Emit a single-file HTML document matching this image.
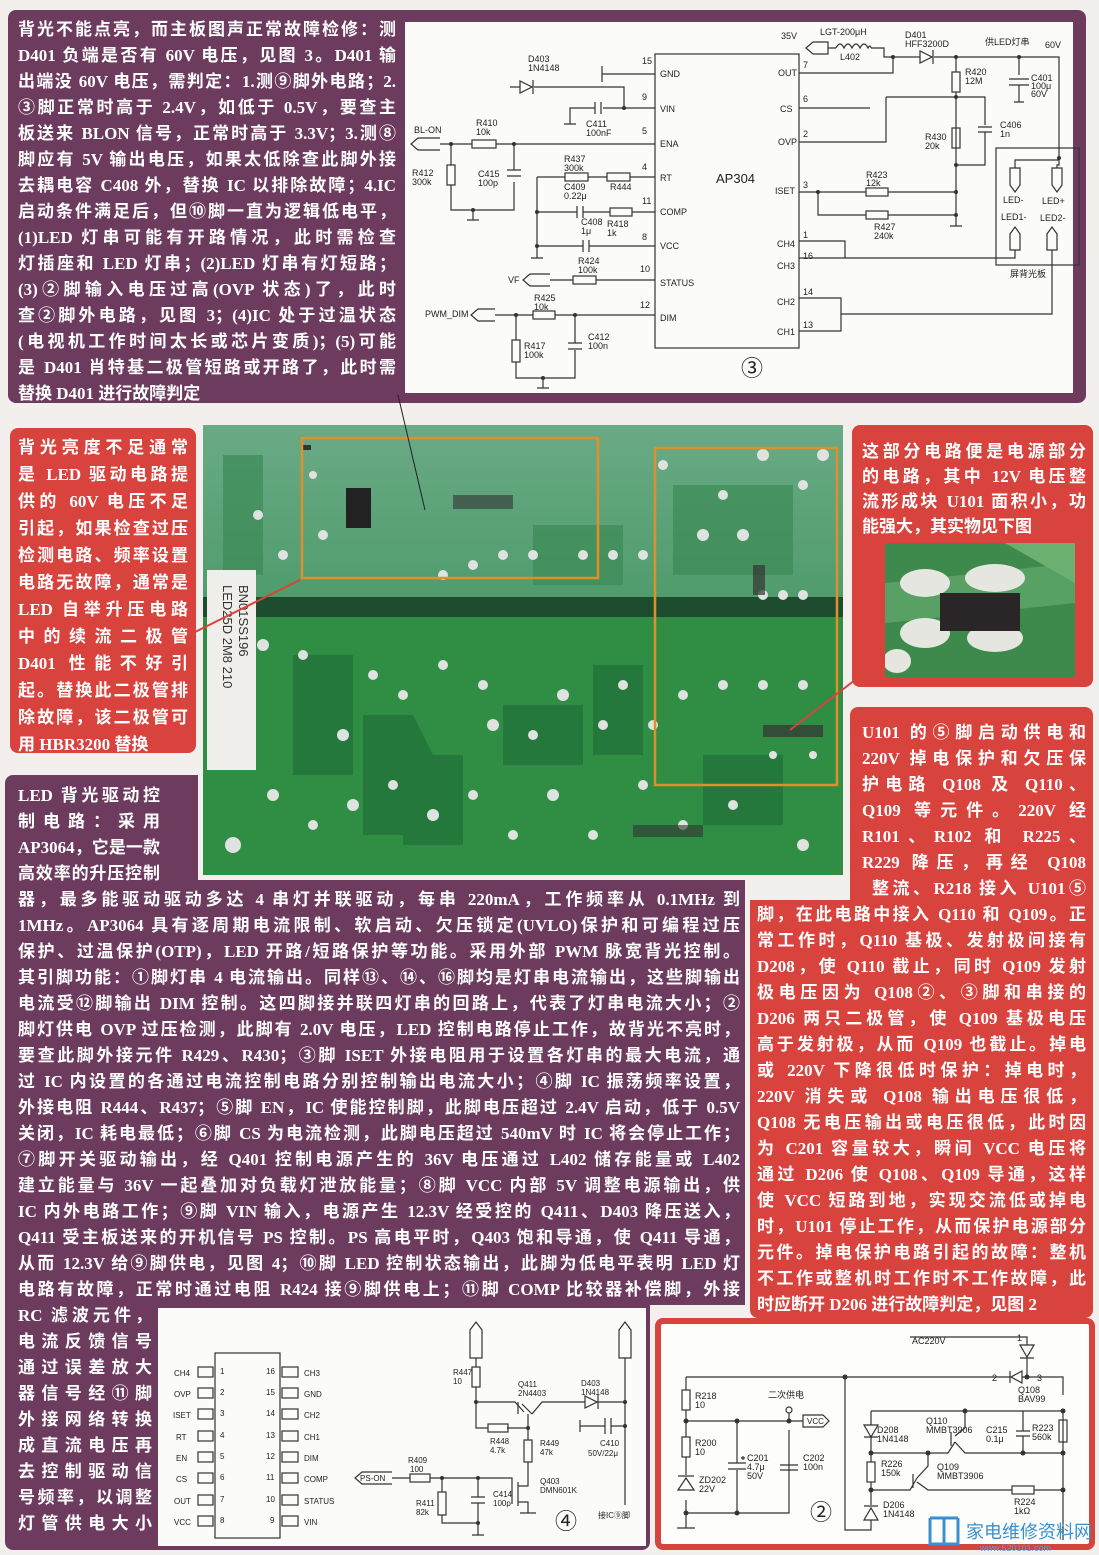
<!DOCTYPE html>
<html><head><meta charset="utf-8">
<style>
html,body{margin:0;padding:0}
body{width:1099px;height:1555px;position:relative;background:#f3efed;overflow:hidden;font-family:"Liberation Serif","Noto Sans CJK SC",sans-serif}
.box{position:absolute;border-radius:8px}
.pu{background:#6c3b5e}
.rd{background:#d8433e}
.l{position:absolute;height:26px;line-height:26px;color:#fff;font-weight:bold;font-size:17px;text-align:justify;text-align-last:justify;overflow:visible;font-family:"Liberation Serif","Noto Sans CJK SC",sans-serif}
.nl{text-align-last:left}
svg text{font-family:"Liberation Sans","Noto Sans CJK SC",sans-serif}
</style></head><body>

<!-- TOP PURPLE -->
<div class="box pu" style="left:8px;top:10px;width:1078px;height:393px"></div>
<div style="position:absolute;left:405px;top:22px;width:668px;height:371px;background:#fbfbf8"></div>

<div class="l" style="left:18px;top:17px;width:378px">背光不能点亮，而主板图声正常故障检修：测</div>
<div class="l" style="left:18px;top:43px;width:378px">D401 负端是否有 60V 电压，见图 3。D401 输</div>
<div class="l" style="left:18px;top:69px;width:378px">出端没 60V 电压，需判定：1.测⑨脚外电路；2.</div>
<div class="l" style="left:18px;top:95px;width:378px">③脚正常时高于 2.4V，如低于 0.5V，要查主</div>
<div class="l" style="left:18px;top:121px;width:378px">板送来 BLON 信号，正常时高于 3.3V；3.测⑧</div>
<div class="l" style="left:18px;top:147px;width:378px">脚应有 5V 输出电压，如果太低除查此脚外接</div>
<div class="l" style="left:18px;top:173px;width:378px">去耦电容 C408 外，替换 IC 以排除故障；4.IC</div>
<div class="l" style="left:18px;top:199px;width:378px">启动条件满足后，但⑩脚一直为逻辑低电平，</div>
<div class="l" style="left:18px;top:225px;width:378px">(1)LED 灯串可能有开路情况，此时需检查</div>
<div class="l" style="left:18px;top:251px;width:378px">灯插座和 LED 灯串；(2)LED 灯串有灯短路；</div>
<div class="l" style="left:18px;top:277px;width:378px">(3)②脚输入电压过高(OVP 状态)了，此时</div>
<div class="l" style="left:18px;top:303px;width:378px">查②脚外电路，见图 3；(4)IC 处于过温状态</div>
<div class="l" style="left:18px;top:329px;width:378px">(电视机工作时间太长或芯片变质)；(5)可能</div>
<div class="l" style="left:18px;top:355px;width:378px">是 D401 肖特基二极管短路或开路了，此时需</div>
<div class="l nl" style="left:18px;top:381px;width:378px">替换 D401 进行故障判定</div>

<!-- Schematic 3 -->
<svg style="position:absolute;left:0;top:0" width="1099" height="410" viewBox="0 0 1099 410" fill="none" stroke="#333" stroke-width="1.2">
<rect x="655" y="54" width="144" height="294"/>
<g font-size="9" fill="#222" stroke="none">
<text x="716" y="183" font-size="13">AP304</text>
<text x="660" y="77">GND</text><text x="660" y="112">VIN</text><text x="660" y="147">ENA</text><text x="660" y="181">RT</text><text x="660" y="215">COMP</text><text x="660" y="249">VCC</text><text x="660" y="286">STATUS</text><text x="660" y="321">DIM</text>
<text x="642" y="64">15</text><text x="642" y="100">9</text><text x="642" y="134">5</text><text x="642" y="170">4</text><text x="642" y="204">11</text><text x="642" y="240">8</text><text x="640" y="272">10</text><text x="640" y="308">12</text>
<text x="778" y="76">OUT</text><text x="780" y="112">CS</text><text x="778" y="145">OVP</text><text x="775" y="194">ISET</text><text x="777" y="247">CH4</text><text x="777" y="269">CH3</text><text x="777" y="305">CH2</text><text x="777" y="335">CH1</text>
<text x="803" y="68">7</text><text x="803" y="102">6</text><text x="803" y="137">2</text><text x="803" y="188">3</text><text x="803" y="238">1</text><text x="803" y="259">16</text><text x="803" y="295">14</text><text x="803" y="328">13</text>
<text x="781" y="39">35V</text><text x="820" y="35">LGT-200μH</text><text x="840" y="60">L402</text><text x="905" y="38">D401</text><text x="905" y="47">HFF3200D</text>
<text x="985" y="45">供LED灯串</text><text x="1045" y="48">60V</text><text x="965" y="75">R420</text><text x="965" y="84">12M</text><text x="1031" y="81">C401</text><text x="1031" y="89">100μ</text><text x="1031" y="97">60V</text>
<text x="1000" y="128">C406</text><text x="1000" y="137">1n</text><text x="925" y="140">R430</text><text x="925" y="149">20k</text>
<text x="866" y="178">R423</text><text x="866" y="186">12k</text><text x="874" y="230">R427</text><text x="874" y="239">240k</text>
<text x="1003" y="203">LED-</text><text x="1042" y="204">LED+</text><text x="1001" y="220">LED1-</text><text x="1040" y="221">LED2-</text><text x="1010" y="277">屏背光板</text>
<text x="528" y="62">D403</text><text x="528" y="71">1N4148</text><text x="586" y="127">C411</text><text x="586" y="136">100nF</text>
<text x="414" y="133">BL-ON</text><text x="476" y="126">R410</text><text x="476" y="135">10k</text><text x="412" y="176">R412</text><text x="412" y="185">300k</text><text x="478" y="177">C415</text><text x="478" y="186">100p</text>
<text x="564" y="162">R437</text><text x="564" y="171">300k</text><text x="564" y="190">C409</text><text x="564" y="199">0.22μ</text><text x="610" y="190">R444</text>
<text x="581" y="225">C408</text><text x="581" y="234">1μ</text><text x="607" y="227">R418</text><text x="607" y="236">1k</text>
<text x="578" y="264">R424</text><text x="578" y="273">100k</text><text x="508" y="283">VF</text>
<text x="425" y="317">PWM_DIM</text><text x="534" y="301">R425</text><text x="534" y="310">10k</text><text x="524" y="349">R417</text><text x="524" y="358">100k</text><text x="588" y="340">C412</text><text x="588" y="349">100n</text>
<text x="741" y="376" font-size="22">③</text>
</g>
<path d="M828 42 L813 42 L806 48 L813 54 L828 54 Z"/>
<path d="M828 48 H836 M871 48 H884 V57 H920 M934 57 H1059 V158"/>
<path d="M836 48 q4 -8 8 0 q4 -8 8 0 q4 -8 8 0 q4 -8 8 0 q2 -4 3 0"/>
<path d="M920 51 L920 63 L932 57 Z M933 50 V64"/>
<path d="M799 73 H893 V57"/>
<path d="M1019 57 V75 M1009 79 H1029 M1009 85 H1029 M1019 85 V102 M1014 102 H1024"/>
<rect x="952" y="72" width="8" height="20"/><path d="M956 57 V72 M956 92 V192"/>
<path d="M886 97 H985 V125 M978 127 H992 M978 132 H992 M985 132 V165 H956"/>
<path d="M799 142 H886 V97"/><path d="M799 108 H870"/>
<rect x="952" y="128" width="8" height="20"/>
<path d="M799 192 H866 M888 192 H956 V226 M950 226 H962 M818 192 V215 H866 M888 215 H956"/>
<rect x="866" y="188" width="22" height="8"/><rect x="866" y="211" width="22" height="8"/>
<path d="M799 241 H845 V258 H799 M845 258 H1015 V250"/>
<path d="M799 298 H841 V331 H799 M841 314 H1052 V250"/>
<rect x="996" y="148" width="83" height="117"/>
<path d="M1059 158 V165 H1057 M1059 165 H1057 V168 M1015 168 V160 H1059"/>
<path d="M1010 168 H1020 V185 L1015 192 L1010 185 Z M1052 168 H1062 V185 L1057 192 L1052 185 Z"/>
<path d="M1010 250 H1020 V234 L1015 227 L1010 234 Z M1047 250 H1057 V234 L1052 227 L1047 234 Z"/>
<path d="M655 74 H602 M602 66 V82"/>
<path d="M510 87 H520 M534 87 H624 V108 M520 81 L520 93 L532 87 Z M533 80 V94"/>
<path d="M655 108 H603 M595 102 V114 M601 102 V114 M595 108 H570 V124 M564 124 H576"/>
<path d="M440 138 H418 L411 144 L418 150 L440 150 M440 144 H472 M496 144 H655"/>
<rect x="472" y="140" width="24" height="8"/>
<path d="M451 144 V165 M451 185 V210 H514 V182 M514 144 V170 M507 170 H521 M507 176 H521 M473 210 V220 M467 220 H479"/>
<rect x="447" y="165" width="8" height="20"/>
<path d="M537 177 H565 M588 177 H607 M630 177 H655"/><rect x="565" y="173" width="23" height="8"/><rect x="607" y="173" width="23" height="8"/>
<path d="M537 177 V258 M531 258 H543 M537 212 H577 M583 212 H610 M632 212 H655 M577 206 V218 M583 206 V218"/><rect x="610" y="208" width="22" height="8"/>
<path d="M537 246 H583 M589 246 H655 M583 240 V252 M589 240 V252"/>
<path d="M550 274 H530 L523 280 L530 286 L550 286 M550 280 H573 M596 280 H655"/><rect x="573" y="276" width="23" height="8"/>
<path d="M495 309 H478 L471 315 L478 321 L495 321 M495 315 H533 M555 315 H655"/><rect x="533" y="311" width="22" height="8"/>
<path d="M516 315 V340 M516 362 V378 H575 V350 M575 315 V343 M568 343 H582 M568 349 H582 M543 378 V388 M537 388 H549"/><rect x="512" y="340" width="8" height="22"/>
<g fill="#333" stroke="none"><circle cx="893" cy="57" r="2"/><circle cx="956" cy="57" r="2"/><circle cx="1019" cy="57" r="2"/><circle cx="956" cy="97" r="2"/><circle cx="956" cy="165" r="2"/><circle cx="956" cy="192" r="2"/><circle cx="818" cy="192" r="2"/><circle cx="956" cy="215" r="2"/><circle cx="1059" cy="158" r="2"/><circle cx="624" cy="108" r="2"/><circle cx="451" cy="144" r="2"/><circle cx="514" cy="144" r="2"/><circle cx="473" cy="210" r="2"/><circle cx="537" cy="212" r="2"/><circle cx="537" cy="246" r="2"/><circle cx="516" cy="315" r="2"/><circle cx="575" cy="315" r="2"/><circle cx="543" cy="378" r="2"/></g>
</svg>

<!-- LEFT RED -->
<div class="box rd" style="left:10px;top:428px;width:186px;height:325px"></div>
<div class="l" style="left:18px;top:435px;width:170px">背光亮度不足通常</div>
<div class="l" style="left:18px;top:462px;width:170px">是 LED 驱动电路提</div>
<div class="l" style="left:18px;top:489px;width:170px">供的 60V 电压不足</div>
<div class="l" style="left:18px;top:516px;width:170px">引起，如果检查过压</div>
<div class="l" style="left:18px;top:543px;width:170px">检测电路、频率设置</div>
<div class="l" style="left:18px;top:570px;width:170px">电路无故障，通常是</div>
<div class="l" style="left:18px;top:597px;width:170px">LED 自举升压电路</div>
<div class="l" style="left:18px;top:624px;width:170px">中的续流二极管</div>
<div class="l" style="left:18px;top:651px;width:170px">D401 性能不好引</div>
<div class="l" style="left:18px;top:678px;width:170px">起。替换此二极管排</div>
<div class="l" style="left:18px;top:705px;width:170px">除故障，该二极管可</div>
<div class="l nl" style="left:18px;top:732px;width:170px">用 HBR3200 替换</div>

<!-- PCB -->
<svg style="position:absolute;left:203px;top:425px" width="640" height="450" viewBox="0 0 640 450">
<defs><linearGradient id="gt" x1="0" y1="0" x2="0" y2="1"><stop offset="0" stop-color="#6aaa86"/><stop offset="1" stop-color="#4f9c6c"/></linearGradient></defs>
<rect width="640" height="450" fill="#2f8d44"/>
<rect width="640" height="175" fill="url(#gt)"/>
<rect y="172" width="640" height="20" fill="#1d4d2e"/>
<g fill="#23733a" opacity="0.8">
<path d="M90 230 h60 v120 h-60z"/><path d="M160 290 h50 l30 60 v60 h-80z"/><path d="M300 280 h80 v60 h-80z"/><path d="M390 240 h50 v90 h-50z"/><path d="M500 330 h80 v70 h-80z"/><path d="M200 330 h60 v90 h-60z"/>
</g>
<g fill="#3c8a55" opacity="0.7"><rect x="20" y="30" width="40" height="120"/><rect x="330" y="100" width="90" height="60"/><rect x="470" y="60" width="120" height="90"/></g>
<rect x="143" y="63" width="25" height="40" fill="#222"/>
<g fill="#dfe3e0">
<circle cx="55" cy="90" r="5"/><circle cx="80" cy="130" r="5"/><circle cx="110" cy="50" r="4"/><circle cx="120" cy="110" r="5"/><circle cx="240" cy="150" r="5"/><circle cx="270" cy="140" r="5"/><circle cx="300" cy="130" r="5"/><circle cx="330" cy="130" r="5"/><circle cx="380" cy="130" r="5"/><circle cx="410" cy="130" r="5"/><circle cx="440" cy="130" r="5"/><circle cx="560" cy="170" r="5"/><circle cx="580" cy="170" r="5"/><circle cx="600" cy="170" r="5"/><circle cx="500" cy="110" r="6"/><circle cx="540" cy="110" r="6"/><circle cx="560" cy="30" r="6"/><circle cx="600" cy="60" r="5"/><circle cx="460" cy="40" r="5"/><circle cx="520" cy="70" r="5"/>
<circle cx="60" cy="220" r="6"/><circle cx="100" cy="230" r="5"/><circle cx="140" cy="310" r="6"/><circle cx="170" cy="250" r="5"/><circle cx="200" cy="270" r="5"/><circle cx="240" cy="240" r="5"/><circle cx="280" cy="260" r="5"/><circle cx="290" cy="300" r="6"/><circle cx="330" cy="310" r="5"/><circle cx="360" cy="270" r="6"/><circle cx="400" cy="300" r="5"/><circle cx="420" cy="260" r="5"/><circle cx="450" cy="300" r="5"/><circle cx="480" cy="270" r="5"/><circle cx="520" cy="260" r="5"/><circle cx="560" cy="260" r="5"/><circle cx="600" cy="260" r="5"/><circle cx="40" cy="330" r="5"/><circle cx="70" cy="370" r="6"/><circle cx="110" cy="400" r="5"/><circle cx="150" cy="380" r="6"/><circle cx="190" cy="360" r="5"/><circle cx="230" cy="390" r="6"/><circle cx="270" cy="370" r="5"/><circle cx="310" cy="410" r="5"/><circle cx="350" cy="370" r="6"/><circle cx="390" cy="410" r="5"/><circle cx="440" cy="360" r="5"/><circle cx="480" cy="400" r="5"/><circle cx="530" cy="380" r="5"/><circle cx="600" cy="420" r="6"/><circle cx="30" cy="420" r="8"/><circle cx="620" cy="30" r="6"/><circle cx="570" cy="330" r="4"/><circle cx="610" cy="330" r="4"/>
</g>
<g fill="#333"><rect x="100" y="20" width="8" height="5"/><rect x="250" y="70" width="60" height="14" opacity="0.6"/><rect x="550" y="140" width="12" height="30" opacity="0.7"/><rect x="560" y="300" width="60" height="12" opacity="0.7"/><rect x="430" y="400" width="70" height="12" opacity="0.6"/></g>
<rect x="4" y="145" width="49" height="200" fill="#efeeea"/>
<text transform="translate(20,160) rotate(90)" font-size="13" fill="#333">LED25D 2M8 210</text>
<text transform="translate(36,160) rotate(90)" font-size="13" fill="#333">BN01SS196</text>
<rect x="99" y="13" width="296" height="140" fill="none" stroke="#e0902a" stroke-width="2.5"/>
<rect x="452" y="23" width="182" height="337" fill="none" stroke="#e0902a" stroke-width="2.5"/>
</svg>
<svg style="position:absolute;left:0;top:0" width="1099" height="900" fill="none">
<path d="M195 632 L300 580" stroke="#d8433e" stroke-width="2"/>
<path d="M855 680 L790 730" stroke="#d8433e" stroke-width="2"/>
<path d="M398 395 L425 510" stroke="#222" stroke-width="1"/>
</svg>

<!-- RIGHT RED 1 -->
<div class="box rd" style="left:852px;top:425px;width:241px;height:262px"></div>
<div class="l" style="left:862px;top:439px;width:224px">这部分电路便是电源部分</div>
<div class="l" style="left:862px;top:464px;width:224px">的电路，其中 12V 电压整</div>
<div class="l" style="left:862px;top:489px;width:224px">流形成块 U101 面积小，功</div>
<div class="l nl" style="left:862px;top:514px;width:224px">能强大，其实物见下图</div>
<svg style="position:absolute;left:885px;top:543px" width="190" height="134" viewBox="0 0 190 134">
<rect width="190" height="134" fill="#3e8a4c"/>
<path d="M0 40 L190 20 V60 L0 80Z" fill="#58a064"/><path d="M120 0 L190 0 V40Z" fill="#6bb070"/>
<g fill="#e6e6e0"><ellipse cx="40" cy="40" rx="25" ry="14"/><ellipse cx="110" cy="35" rx="30" ry="14"/><ellipse cx="40" cy="90" rx="25" ry="15"/><ellipse cx="110" cy="95" rx="28" ry="14"/><ellipse cx="12" cy="118" rx="14" ry="12"/></g>
<rect x="55" y="50" width="80" height="38" fill="#2a2526"/>
</svg>

<!-- RIGHT RED 2 -->
<div class="box rd" style="left:850px;top:707px;width:243px;height:200px"></div>
<div class="box rd" style="left:750px;top:900px;width:343px;height:418px;border-radius:0 0 8px 8px"></div>
<div class="l" style="left:862px;top:720px;width:224px">U101 的⑤脚启动供电和</div>
<div class="l" style="left:862px;top:746px;width:224px">220V 掉电保护和欠压保</div>
<div class="l" style="left:862px;top:772px;width:224px">护电路 Q108 及 Q110、</div>
<div class="l" style="left:862px;top:798px;width:224px">Q109 等元件。220V 经</div>
<div class="l" style="left:862px;top:824px;width:224px">R101、R102 和 R225、</div>
<div class="l" style="left:862px;top:850px;width:224px">R229 降压，再经 Q108</div>
<div class="l" style="left:872px;top:876px;width:214px">整流、R218 接入 U101⑤</div>
<div class="l" style="left:757px;top:902px;width:329px">脚，在此电路中接入 Q110 和 Q109。正</div>
<div class="l" style="left:757px;top:928px;width:329px">常工作时，Q110 基极、发射极间接有</div>
<div class="l" style="left:757px;top:954px;width:329px">D208，使 Q110 截止，同时 Q109 发射</div>
<div class="l" style="left:757px;top:980px;width:329px">极电压因为 Q108②、③脚和串接的</div>
<div class="l" style="left:757px;top:1006px;width:329px">D206 两只二极管，使 Q109 基极电压</div>
<div class="l" style="left:757px;top:1032px;width:329px">高于发射极，从而 Q109 也截止。掉电</div>
<div class="l" style="left:757px;top:1058px;width:329px">或 220V 下降很低时保护：掉电时，</div>
<div class="l" style="left:757px;top:1084px;width:329px">220V 消失或 Q108 输出电压很低，</div>
<div class="l" style="left:757px;top:1110px;width:329px">Q108 无电压输出或电压很低，此时因</div>
<div class="l" style="left:757px;top:1136px;width:329px">为 C201 容量较大，瞬间 VCC 电压将</div>
<div class="l" style="left:757px;top:1162px;width:329px">通过 D206 使 Q108、Q109 导通，这样</div>
<div class="l" style="left:757px;top:1188px;width:329px">使 VCC 短路到地，实现交流低或掉电</div>
<div class="l" style="left:757px;top:1214px;width:329px">时，U101 停止工作，从而保护电源部分</div>
<div class="l" style="left:757px;top:1240px;width:329px">元件。掉电保护电路引起的故障：整机</div>
<div class="l" style="left:757px;top:1266px;width:329px">不工作或整机时工作时不工作故障，此</div>
<div class="l nl" style="left:757px;top:1292px;width:329px">时应断开 D206 进行故障判定，见图 2</div>

<!-- BOTTOM PURPLE -->
<div class="box pu" style="left:5px;top:775px;width:193px;height:140px;border-radius:8px 0 0 0"></div>
<div class="box pu" style="left:5px;top:880px;width:740px;height:425px;border-radius:0"></div>
<div class="box pu" style="left:5px;top:1290px;width:645px;height:260px;border-radius:0 0 8px 8px"></div>
<div class="l" style="left:18px;top:783px;width:142px">LED 背光驱动控</div>
<div class="l" style="left:18px;top:809px;width:142px">制电路：采用</div>
<div class="l" style="left:18px;top:835px;width:142px">AP3064，它是一款</div>
<div class="l" style="left:18px;top:861px;width:142px">高效率的升压控制</div>
<div class="l" style="left:18px;top:887px;width:722px">器，最多能驱动驱动多达 4 串灯并联驱动，每串 220mA，工作频率从 0.1MHz 到</div>
<div class="l" style="left:18px;top:913px;width:722px">1MHz。AP3064 具有逐周期电流限制、软启动、欠压锁定(UVLO)保护和可编程过压</div>
<div class="l" style="left:18px;top:939px;width:722px">保护、过温保护(OTP)，LED 开路/短路保护等功能。采用外部 PWM 脉宽背光控制。</div>
<div class="l" style="left:18px;top:965px;width:722px">其引脚功能：①脚灯串 4 电流输出。同样⑬、⑭、⑯脚均是灯串电流输出，这些脚输出</div>
<div class="l" style="left:18px;top:991px;width:722px">电流受⑫脚输出 DIM 控制。这四脚接并联四灯串的回路上，代表了灯串电流大小；②</div>
<div class="l" style="left:18px;top:1017px;width:722px">脚灯供电 OVP 过压检测，此脚有 2.0V 电压，LED 控制电路停止工作，故背光不亮时，</div>
<div class="l" style="left:18px;top:1043px;width:722px">要查此脚外接元件 R429、R430；③脚 ISET 外接电阻用于设置各灯串的最大电流，通</div>
<div class="l" style="left:18px;top:1069px;width:722px">过 IC 内设置的各通过电流控制电路分别控制输出电流大小；④脚 IC 振荡频率设置，</div>
<div class="l" style="left:18px;top:1095px;width:722px">外接电阻 R444、R437；⑤脚 EN，IC 使能控制脚，此脚电压超过 2.4V 启动，低于 0.5V</div>
<div class="l" style="left:18px;top:1121px;width:722px">关闭，IC 耗电最低；⑥脚 CS 为电流检测，此脚电压超过 540mV 时 IC 将会停止工作；</div>
<div class="l" style="left:18px;top:1147px;width:722px">⑦脚开关驱动输出，经 Q401 控制电源产生的 36V 电压通过 L402 储存能量或 L402</div>
<div class="l" style="left:18px;top:1173px;width:722px">建立能量与 36V 一起叠加对负载灯泄放能量；⑧脚 VCC 内部 5V 调整电源输出，供</div>
<div class="l" style="left:18px;top:1199px;width:722px">IC 内外电路工作；⑨脚 VIN 输入，电源产生 12.3V 经受控的 Q411、D403 降压送入，</div>
<div class="l" style="left:18px;top:1225px;width:722px">Q411 受主板送来的开机信号 PS 控制。PS 高电平时，Q403 饱和导通，使 Q411 导通，</div>
<div class="l" style="left:18px;top:1251px;width:722px">从而 12.3V 给⑨脚供电，见图 4；⑩脚 LED 控制状态输出，此脚为低电平表明 LED 灯</div>
<div class="l" style="left:18px;top:1277px;width:722px">电路有故障，正常时通过电阻 R424 接⑨脚供电上；⑪脚 COMP 比较器补偿脚，外接</div>
<div class="l" style="left:18px;top:1303px;width:134px">RC 滤波元件，</div>
<div class="l" style="left:18px;top:1329px;width:134px">电流反馈信号</div>
<div class="l" style="left:18px;top:1355px;width:134px">通过误差放大</div>
<div class="l" style="left:18px;top:1381px;width:134px">器信号经⑪脚</div>
<div class="l" style="left:18px;top:1407px;width:134px">外接网络转换</div>
<div class="l" style="left:18px;top:1433px;width:134px">成直流电压再</div>
<div class="l" style="left:18px;top:1459px;width:134px">去控制驱动信</div>
<div class="l" style="left:18px;top:1485px;width:134px">号频率，以调整</div>
<div class="l" style="left:18px;top:1511px;width:134px">灯管供电大小</div>

<!-- Schematics 4 & 2 -->
<svg style="position:absolute;left:0;top:0" width="1099" height="1555" viewBox="0 0 1099 1555" fill="none" stroke="#333" stroke-width="1.2">
<rect x="158" y="1308" width="488" height="238" fill="#fbfbf8" stroke="none"/>
<rect x="215" y="1353" width="65" height="185"/>
<g>
<rect x="198" y="1367" width="15" height="10"/><rect x="198" y="1388" width="15" height="10"/><rect x="198" y="1409" width="15" height="10"/><rect x="198" y="1431" width="15" height="10"/><rect x="198" y="1452" width="15" height="10"/><rect x="198" y="1473" width="15" height="10"/><rect x="198" y="1495" width="15" height="10"/><rect x="198" y="1516" width="15" height="10"/>
<rect x="282" y="1367" width="16" height="10"/><rect x="282" y="1388" width="16" height="10"/><rect x="282" y="1409" width="16" height="10"/><rect x="282" y="1431" width="16" height="10"/><rect x="282" y="1452" width="16" height="10"/><rect x="282" y="1473" width="16" height="10"/><rect x="282" y="1495" width="16" height="10"/><rect x="282" y="1516" width="16" height="10"/>
</g>
<g font-size="8" fill="#222" stroke="none">
<text x="174" y="1376">CH4</text><text x="174" y="1397">OVP</text><text x="173" y="1418">ISET</text><text x="176" y="1440">RT</text><text x="176" y="1461">EN</text><text x="176" y="1482">CS</text><text x="174" y="1504">OUT</text><text x="174" y="1525">VCC</text>
<text x="220" y="1374">1</text><text x="220" y="1395">2</text><text x="220" y="1416">3</text><text x="220" y="1438">4</text><text x="220" y="1459">5</text><text x="220" y="1480">6</text><text x="220" y="1502">7</text><text x="220" y="1523">8</text>
<text x="266" y="1374">16</text><text x="266" y="1395">15</text><text x="266" y="1416">14</text><text x="266" y="1438">13</text><text x="266" y="1459">12</text><text x="266" y="1480">11</text><text x="266" y="1502">10</text><text x="270" y="1523">9</text>
<text x="304" y="1376">CH3</text><text x="304" y="1397">GND</text><text x="304" y="1418">CH2</text><text x="304" y="1440">CH1</text><text x="304" y="1461">DIM</text><text x="304" y="1482">COMP</text><text x="304" y="1504">STATUS</text><text x="304" y="1525">VIN</text>
<text x="453" y="1375">R447</text><text x="453" y="1384">10</text><text x="518" y="1387">Q411</text><text x="518" y="1396">2N4403</text><text x="581" y="1386">D403</text><text x="581" y="1395">1N4148</text>
<text x="490" y="1444">R448</text><text x="490" y="1453">4.7k</text><text x="540" y="1446">R449</text><text x="540" y="1455">47k</text><text x="600" y="1446">C410</text><text x="588" y="1456">50V/22μ</text>
<text x="408" y="1463">R409</text><text x="410" y="1472">100</text><text x="416" y="1506">R411</text><text x="416" y="1515">82k</text><text x="493" y="1497">C414</text><text x="493" y="1506">100p</text>
<text x="540" y="1484">Q403</text><text x="540" y="1493">DMN601K</text><text x="360" y="1481">PS-ON</text><text x="598" y="1518">接IC⑨脚</text>
<text x="555" y="1529" font-size="22">④</text>
</g>
<path d="M470 1358 V1330 L476 1322 L482 1330 V1358 Z M476 1358 V1367 M476 1387 V1428 H488 M507 1428 H528"/>
<rect x="472" y="1367" width="8" height="20"/><rect x="488" y="1424" width="20" height="8"/>
<path d="M476 1402 H515 L524 1412 M518 1402 V1414 M522 1404 L532 1414 M532 1414 L542 1402 H585 M528 1414 V1440 M528 1462 V1482"/>
<rect x="524" y="1440" width="8" height="22"/>
<path d="M585 1396 V1408 L597 1402 Z M598 1395 V1409 M598 1402 H625"/>
<path d="M619 1358 V1330 L625 1322 L631 1330 V1358 Z M625 1358 V1505"/>
<path d="M580 1420 V1432 M580 1426 H605 M605 1418 V1434 M611 1418 V1434 M611 1426 H625"/>
<path d="M392 1472 H362 L355 1478 L362 1484 H392 M392 1478 H410 M430 1478 H512 V1498 M512 1484 V1504 M518 1482 V1506 M518 1486 H528 V1482 M518 1502 H528 V1513 M520 1513 H536"/>
<rect x="410" y="1474" width="20" height="8"/>
<path d="M442 1478 V1492 M442 1515 V1523 H478 V1503 M478 1478 V1497 M471 1497 H485 M471 1503 H485 M478 1523 V1535 M472 1535 H484"/>
<rect x="438" y="1492" width="8" height="23"/>
<g fill="#333" stroke="none"><circle cx="476" cy="1402" r="2"/><circle cx="528" cy="1428" r="2"/><circle cx="625" cy="1402" r="2"/><circle cx="625" cy="1426" r="2"/><circle cx="442" cy="1478" r="2"/><circle cx="478" cy="1478" r="2"/><circle cx="478" cy="1523" r="2"/></g>

<rect x="658" y="1321" width="434" height="226" fill="#fdfdfb" stroke="#d8433e" stroke-width="6" rx="5"/>
<g font-size="9" fill="#222" stroke="none">
<text x="912" y="1344">AC220V</text><text x="1017" y="1341">1</text><text x="992" y="1381">2</text><text x="1037" y="1381">3</text><text x="1018" y="1393">Q108</text><text x="1018" y="1402">BAV99</text>
<text x="695" y="1399">R218</text><text x="695" y="1408">10</text><text x="695" y="1446">R200</text><text x="695" y="1455">10</text><text x="699" y="1483">ZD202</text><text x="699" y="1492">22V</text>
<text x="768" y="1398">二次供电</text><text x="747" y="1461">C201</text><text x="747" y="1470">4.7μ</text><text x="747" y="1479">50V</text><text x="803" y="1461">C202</text><text x="803" y="1470">100n</text>
<text x="807" y="1424" font-size="8">VCC</text>
<text x="877" y="1433">D208</text><text x="877" y="1442">1N4148</text><text x="926" y="1424">Q110</text><text x="926" y="1433">MMBT3906</text><text x="986" y="1433">C215</text><text x="986" y="1442">0.1μ</text><text x="1032" y="1431">R223</text><text x="1032" y="1440">560k</text>
<text x="881" y="1467">R226</text><text x="881" y="1476">150k</text><text x="937" y="1470">Q109</text><text x="937" y="1479">MMBT3906</text><text x="1014" y="1505">R224</text><text x="1014" y="1514">1kΩ</text>
<text x="883" y="1508">D206</text><text x="883" y="1517">1N4148</text>
<text x="810" y="1520" font-size="22">②</text>
</g>
<path d="M686 1377 H1010 M1022 1377 H1063 V1395 M686 1377 V1390 M686 1410 V1437 M686 1457 V1475 M686 1500 V1528 M677 1528 H695 M686 1513 H789 V1430 M686 1421 H803 M737 1421 V1463 M737 1470 V1513 M789 1421 V1413"/>
<rect x="682" y="1390" width="8" height="20"/><rect x="682" y="1437" width="8" height="20"/>
<path d="M678 1490 L694 1490 L686 1478 Z M678 1476 H694"/>
<path d="M728 1463 H746 M728 1469 H746 M741 1458 H745 M743 1456 V1460 M780 1465 H798 M780 1470 H798"/>
<circle cx="789" cy="1410" r="3" fill="#fff"/>
<path d="M803 1415 H823 L829 1421 L823 1427 H803 Z"/>
<path d="M910 1337 H1027 V1345 M1020 1345 H1034 L1027 1357 Z M1020 1358 H1034 M1027 1358 V1377 M1010 1371 V1383 M1022 1371 L1011 1377 L1022 1383 Z"/>
<path d="M845 1377 V1530 H871 V1520 M871 1411 H1063 V1540 M871 1411 V1425 M871 1437 V1462 M871 1482 V1505"/>
<path d="M864 1425 H878 L871 1437 Z M864 1437 H878"/><rect x="867" y="1462" width="8" height="20"/>
<path d="M864 1520 H878 L871 1508 Z M864 1506 H878"/>
<path d="M871 1453 H948 L955 1442 M955 1436 L965 1428 V1411 M955 1442 L965 1453 H1063 M951 1432 V1446 M1023 1411 V1431 M1016 1431 H1030 M1016 1436 H1030 M1023 1436 V1453"/>
<rect x="1059" y="1420" width="8" height="22"/>
<path d="M871 1490 H910 L917 1478 M913 1474 V1488 M917 1478 L928 1466 V1453 M917 1482 L928 1490 H1012 M1034 1490 H1063"/><rect x="1012" y="1486" width="22" height="8"/>
<g fill="#333" stroke="none"><circle cx="845" cy="1377" r="2.5"/><circle cx="686" cy="1421" r="2.5"/><circle cx="737" cy="1421" r="2.5"/><circle cx="789" cy="1421" r="2.5"/><circle cx="686" cy="1513" r="2.5"/><circle cx="737" cy="1513" r="2.5"/><circle cx="871" cy="1453" r="2.5"/><circle cx="871" cy="1490" r="2.5"/><circle cx="1027" cy="1377" r="2.5"/><circle cx="965" cy="1411" r="2.5"/><circle cx="1063" cy="1411" r="2.5"/><circle cx="1023" cy="1453" r="2.5"/><circle cx="1063" cy="1453" r="2.5"/><circle cx="1063" cy="1490" r="2.5"/><circle cx="928" cy="1453" r="2.5"/></g>
<g stroke="#3a8fd0" stroke-width="3"><path d="M930 1518 V1544 H958 V1518 M944 1518 V1544 M930 1518 H958"/></g>
<text x="966" y="1538" font-size="18" fill="#3a8fd0" stroke="none">家电维修资料网</text>
<text x="980" y="1551" font-size="9" fill="#5a9fd4" stroke="none">www.520101.com</text>
</svg>
</body></html>
